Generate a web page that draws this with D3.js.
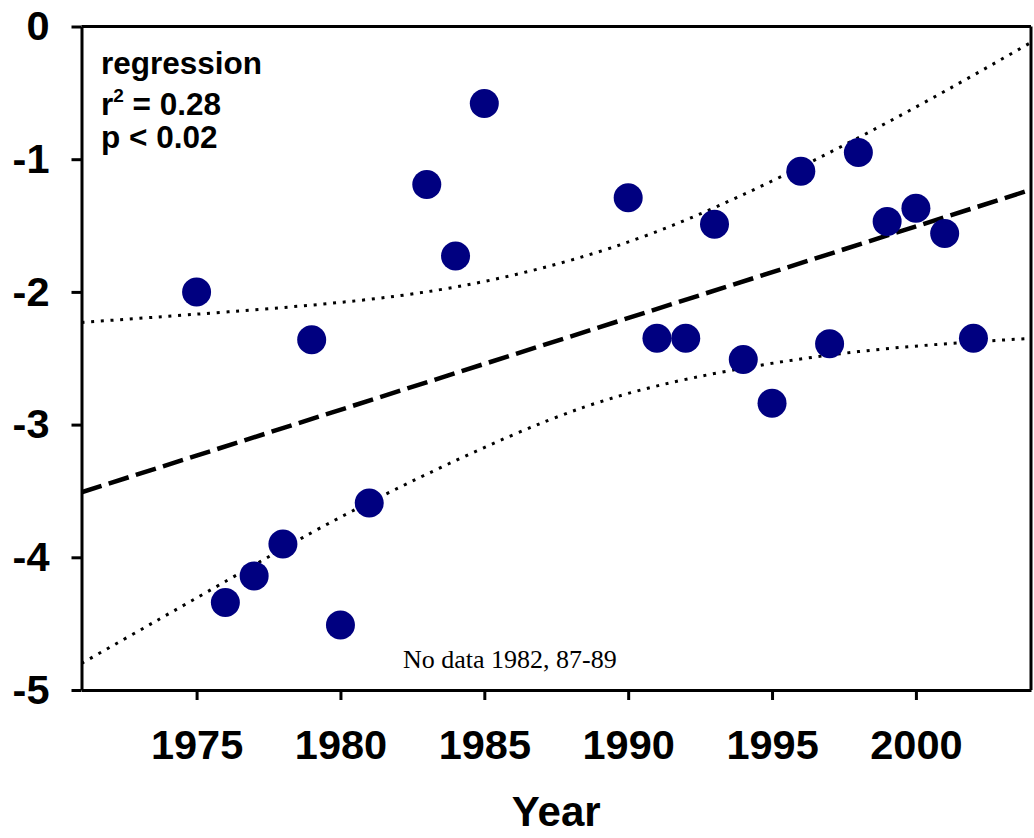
<!DOCTYPE html>
<html>
<head>
<meta charset="utf-8">
<script src="https://cdn.jsdelivr.net/npm/d3@7"></script>
<style>
  html, body { margin: 0; padding: 0; background: #fff; }
  svg { display: block; }
</style>
</head>
<body>
<div id="chart"></div>
<script>
// Observations by year (no sampling in 1982 and 1987-89)
const years = [1975, 1976, 1977, 1978, 1979, 1980, 1981, 1983, 1984, 1985,
               1990, 1991, 1992, 1993, 1994, 1995, 1996, 1997, 1998, 1999,
               2000, 2001, 2002];
const values = [-2.00, -4.34, -4.14, -3.90, -2.36, -4.51, -3.59, -1.19, -1.73, -0.58,
                -1.29, -2.35, -2.35, -1.49, -2.51, -2.84, -1.09, -2.39, -0.95, -1.47,
                -1.37, -1.56, -2.35];

// Fitted regression line (end points across the plotted range)
const fitYears = [1971, 2004];
const fitValues = [-3.51, -1.23];

// Confidence band around the fit
const upperYears = [1971, 1976.1, 1982.0, 1987.0, 1992.2, 1998.6, 2004];
const upperValues = [-2.23, -2.15, -2.03, -1.82, -1.44, -0.77, -0.12];
const lowerYears = [1971, 1976.1, 1978.7, 1981.8, 1987.2, 1992.2, 1998.0, 2004];
const lowerValues = [-4.80, -4.17, -3.85, -3.50, -2.97, -2.65, -2.45, -2.35];

const xTicks = [1975, 1980, 1985, 1990, 1995, 2000];
const yTicks = [0, -1, -2, -3, -4, -5];
const statsLines = ["regression", "r2 = 0.28", "p < 0.02"];
const noteText = "No data 1982, 87-89";
const xTitle = "Year";

const W = 1034, H = 838;
const margin = { left: 81.5, top: 26.5, right: 3, bottom: 148 };
const innerW = W - margin.left - margin.right;
const innerH = H - margin.top - margin.bottom;

const svg = d3.select("#chart").append("svg")
  .attr("width", W).attr("height", H);

const x = d3.scaleLinear().domain([1971, 2004]).range([0, innerW]);
const y = d3.scaleLinear().domain([-5, 0]).range([innerH, 0]);

const g = svg.append("g").attr("transform", `translate(${margin.left},${margin.top})`);

g.append("clipPath").attr("id", "plotClip")
  .append("rect").attr("width", innerW).attr("height", innerH);

const plot = g.append("g").attr("clip-path", "url(#plotClip)");

const lineGen = d3.line()
  .x(d => x(d[0])).y(d => y(d[1]))
  .curve(d3.curveNatural);

// Confidence band curves
plot.append("path")
  .datum(upperYears.map((yr, i) => [yr, upperValues[i]]))
  .attr("d", lineGen)
  .attr("fill", "none").attr("stroke", "#000")
  .attr("stroke-width", 3).attr("stroke-dasharray", "3,6.7");

plot.append("path")
  .datum(lowerYears.map((yr, i) => [yr, lowerValues[i]]))
  .attr("d", lineGen)
  .attr("fill", "none").attr("stroke", "#000")
  .attr("stroke-width", 3).attr("stroke-dasharray", "3,6.7");

// Regression line
plot.append("path")
  .datum(fitYears.map((yr, i) => [yr, fitValues[i]]))
  .attr("d", d3.line().x(d => x(d[0])).y(d => y(d[1])))
  .attr("fill", "none").attr("stroke", "#000")
  .attr("stroke-width", 4.5).attr("stroke-dasharray", "21,7.5");

// Data points
g.append("g").selectAll("circle")
  .data(years.map((yr, i) => [yr, values[i]]))
  .join("circle")
  .attr("cx", d => x(d[0]))
  .attr("cy", d => y(d[1]))
  .attr("r", 14.5)
  .attr("fill", "#000080");

// Frame (top and right edges)
g.append("line").attr("x1", 0).attr("x2", innerW).attr("y1", 0).attr("y2", 0)
  .attr("stroke", "#000").attr("stroke-width", 3);
g.append("line").attr("x1", innerW).attr("x2", innerW).attr("y1", 0).attr("y2", innerH)
  .attr("stroke", "#000").attr("stroke-width", 3);

// Axes
const xAxis = g.append("g").attr("transform", `translate(0,${innerH})`)
  .call(d3.axisBottom(x).tickValues(xTicks).tickFormat(d => String(d))
    .tickSize(10).tickSizeOuter(0).tickPadding(30));
const yAxis = g.append("g")
  .call(d3.axisLeft(y).tickValues(yTicks).tickFormat(d => String(d))
    .tickSize(10).tickSizeOuter(0).tickPadding(22));

[xAxis, yAxis].forEach(ax => {
  ax.select(".domain").attr("stroke", "#000").attr("stroke-width", 3);
  ax.selectAll(".tick line").attr("stroke", "#000").attr("stroke-width", 3);
  ax.selectAll(".tick text")
    .attr("fill", "#000")
    .style("font-family", "'Liberation Sans', Arial, sans-serif")
    .style("font-weight", "bold")
    .style("font-size", "41.5px");
});

// Regression statistics
const statsFont = "'Liberation Sans', Arial, sans-serif";
const statBaselines = [74, 115, 148];
const sg = svg.append("g")
  .style("font-family", statsFont).style("font-weight", "bold").style("font-size", "31.5px");
sg.append("text").attr("x", 101).attr("y", statBaselines[0]).text(statsLines[0]);
const r2 = sg.append("text").attr("x", 101).attr("y", statBaselines[1]);
r2.append("tspan").text("r");
r2.append("tspan").attr("dy", -13).style("font-size", "19px").text("2");
r2.append("tspan").attr("dy", 13).text(" = 0.28");
sg.append("text").attr("x", 101).attr("y", statBaselines[2]).text(statsLines[2]);

// Gap note
svg.append("text")
  .attr("x", 403).attr("y", 668)
  .style("font-family", "'Liberation Serif', 'Times New Roman', serif")
  .style("font-size", "26px")
  .attr("fill", "#000")
  .text(noteText);

// Axis title
svg.append("text")
  .attr("x", margin.left + innerW / 2).attr("y", 826)
  .attr("text-anchor", "middle")
  .style("font-family", "'Liberation Sans', Arial, sans-serif")
  .style("font-weight", "bold").style("font-size", "42px")
  .text(xTitle);
</script>
</body>
</html>
